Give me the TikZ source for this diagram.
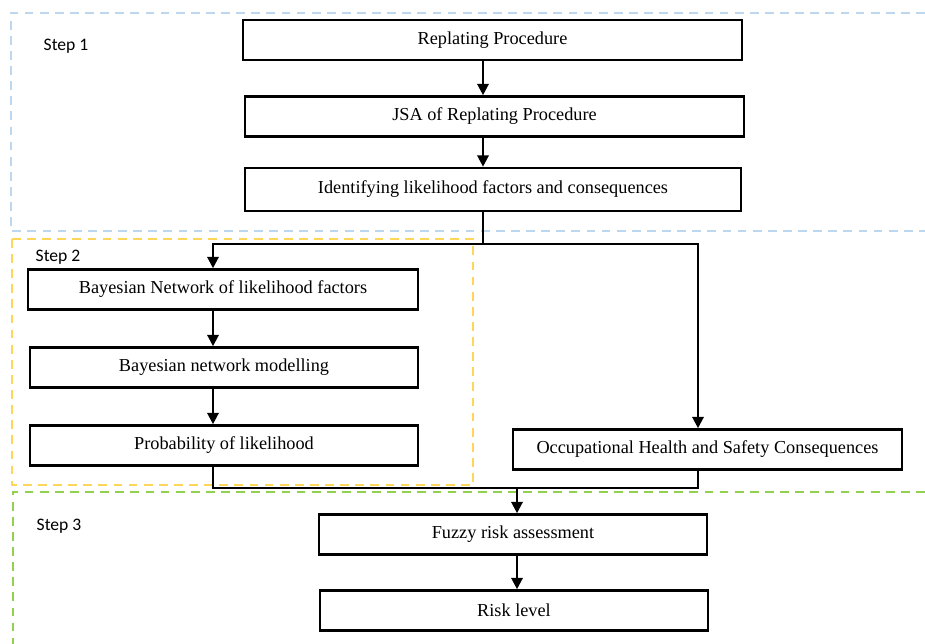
\documentclass[tikz,border=0pt]{standalone}
\usepackage{fontspec}
\setmainfont{Liberation Serif}
\newfontfamily\stepfont{Carlito}
\usepackage{tikz}
\usetikzlibrary{arrows.meta}

\definecolor{stepblue}{RGB}{189,215,238}
\definecolor{stepyellow}{RGB}{255,214,90}
\definecolor{stepgreen}{RGB}{146,208,80}

\begin{document}
\begin{tikzpicture}[x=0.02cm, y=-0.02cm,
  box/.style={rectangle, draw, line width=1.5pt, minimum height=0.8cm, inner sep=0pt, font=\fontsize{10.4}{12}\selectfont},
  lbl/.style={font=\stepfont\fontsize{10}{12}\selectfont},
  frame/.style={line width=1.4pt, dash pattern=on 5pt off 3.6pt},
  arr/.style={-{Triangle[length=6.5pt, width=6.5pt]}, line width=1.3pt}]
\useasboundingbox (0,0) rectangle (925,643);

% dashed step frames
\draw[frame, stepblue] (940,13) -- (11,13) -- (11,231) -- (940,231);
\draw[frame, stepyellow] (12,239) rectangle (473,485);
\draw[frame, stepgreen] (940,492) -- (13,492) -- (13,660);

\node[lbl] (s1) at (66,46) {Step 1};
\node[lbl] (s2) at (58,257) {Step 2};
\node[lbl] (s3) at (59,526) {Step 3};

\node[box, minimum width=9.98cm] (rp) at (492.5,40) {Replating Procedure};
\node[box, minimum width=9.98cm] (jsa) at (494.5,116.5) {JSA of Replating Procedure};
\node[box, minimum width=9.92cm, minimum height=0.86cm] (ident) at (493,189.5) {Identifying likelihood factors and consequences};
\node[box, minimum width=7.8cm] (bnf) at (223,289.5) {Bayesian Network of likelihood factors};
\node[box, minimum width=7.76cm] (bnm) at (224,367.5) {Bayesian network modelling};
\node[box, minimum width=7.76cm] (prob) at (224,445.5) {Probability of likelihood};
\node[box, minimum width=7.78cm] (ohs) at (707.5,449.5) {Occupational Health and Safety Consequences};
\node[box, minimum width=7.76cm] (fuzzy) at (513,534.5) {Fuzzy risk assessment};
\node[box, minimum width=7.76cm] (risk) at (514,610.5) {Risk level};

\coordinate (split) at (483,244);
\coordinate (lft) at (213,244);
\coordinate (rgt) at (698,244);
\coordinate (join) at (517,488);

\draw[arr] (rp.south -| split) -- (jsa.north -| split);
\draw[arr] (jsa.south -| split) -- (ident.north -| split);
\draw[line width=1.3pt] (ident.south -| split) -- (split);
\draw[arr] (split) -- (lft) -- (bnf.north -| lft);
\draw[arr] (split) -- (rgt) -- (ohs.north -| rgt);
\draw[arr] (bnf.south -| lft) -- (bnm.north -| lft);
\draw[arr] (bnm.south -| lft) -- (prob.north -| lft);
\draw[line width=1.3pt] (prob.south -| lft) |- (join);
\draw[line width=1.3pt] (ohs.south -| rgt) |- (join);
\draw[arr] (join) -- (fuzzy.north -| join);
\draw[arr] (fuzzy.south -| join) -- (risk.north -| join);
\end{tikzpicture}
\end{document}
